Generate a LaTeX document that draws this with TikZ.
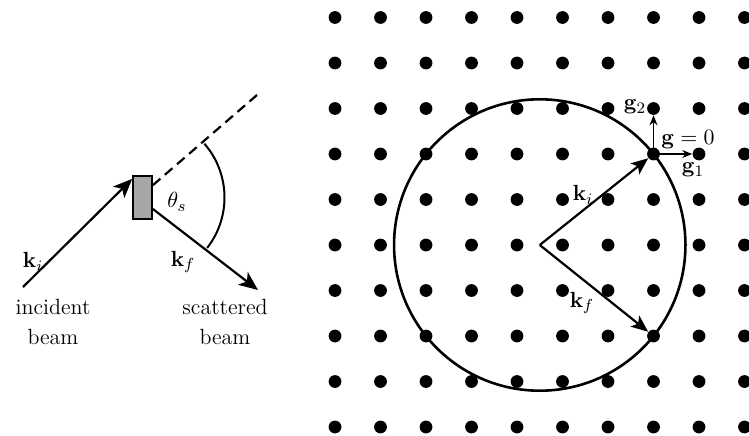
\documentclass[tikz,border=0pt]{standalone}
\usepackage{amsmath}
\usetikzlibrary{arrows.meta}

\begin{document}
\begin{tikzpicture}[x=0.5pt, y=0.5pt,
  latt/.style={circle, fill=black, inner sep=0pt, minimum size=6.4pt},
  ray/.style={line width=1.1pt, -{Stealth[length=9.5pt, width=8pt, inset=2.5pt]}},
  kvec/.style={line width=1.1pt, -{Stealth[length=8.5pt, width=7pt, inset=2pt]}},
  gvec/.style={line width=0.8pt, -{Stealth[length=5pt, width=4pt]}},
  lbl/.style={inner sep=0pt, align=center, font=\fontsize{11}{15}\selectfont}]
\useasboundingbox (0,0) rectangle (749,435);
% scattering geometry
\node[draw, fill=gray!70, line width=0.8pt, minimum width=9.5pt,
  minimum height=21.5pt, inner sep=0pt] (target) at (142.5,237.5) {};
\coordinate (src) at (23,148);
\coordinate (fwd) at (257,340);
\coordinate (out) at (258,145);
\draw[ray] (src) -- (target.119);
\draw[line width=1.1pt, dash pattern=on 5pt off 3pt] (target.50) -- (fwd);
\draw[ray] (target.-48) -- (out);
\draw[line width=1pt] (target.center) ++(41:82)
  arc[start angle=41, end angle=-38, radius=82];
\node[lbl] (ki) at (33,173) {$\mathbf{k}_i$};
\node[lbl] (kf) at (183,173) {$\mathbf{k}_f$};
\node[lbl] (theta) at (177,233) {$\theta_s$};
\node[lbl] (inc) at (53,113) {incident\\beam};
\node[lbl] (sca) at (225,113) {scattered\\beam};
% reciprocal lattice and Ewald circle
\foreach \i in {0,...,9}
  \foreach \r in {0,...,9}
    \node[latt] (d-\i-\r) at ({335+45.5*\i}, {8+45.5*\r}) {};
\coordinate (ctr) at (539.75,190);
\draw[line width=1.3pt] (ctr) circle[radius=145.7];
\draw[kvec] (ctr) -- (d-7-6);
\draw[kvec] (ctr) -- (d-7-2);
\draw[gvec] (d-7-6.center) -- (d-7-7);
\draw[gvec] (d-7-6.center) -- (d-8-6);
\node[lbl] (kil) at (583,240) {$\mathbf{k}_i$};
\node[lbl] (kfl) at (582,132) {$\mathbf{k}_f$};
\node[lbl] (g2) at (635,328) {$\mathbf{g}_2$};
\node[lbl] (g0) at (688,295) {$\mathbf{g}=0$};
\node[lbl] (g1) at (693,265) {$\mathbf{g}_1$};
\end{tikzpicture}
\end{document}
